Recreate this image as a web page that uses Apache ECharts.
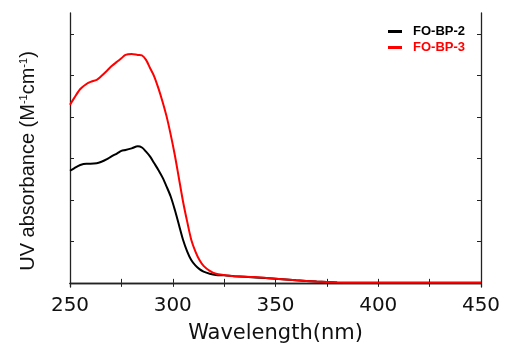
<!DOCTYPE html>
<html>
<head>
<meta charset="utf-8">
<script src="https://cdn.jsdelivr.net/npm/echarts@6/dist/echarts.min.js"></script>
<style>html,body{margin:0;padding:0;background:#fff;}#chart{width:511px;height:360px;}</style>
</head>
<body>
<div id="chart"></div>
<script>
var wavelengths = [250,252,255,258,260,263,265,268,270,273,275,277,280,283,285,287,289,291,293,295,297,299,301,303,305,307,309,311,313,315,318,321,325,330,340,350,360,370,380,390,400,410,420,430,440,450];
var fobp2 = [2.70,2.76,2.84,2.87,2.87,2.88,2.91,2.98,3.04,3.12,3.18,3.20,3.24,3.29,3.26,3.16,3.04,2.88,2.72,2.54,2.32,2.08,1.76,1.40,1.04,0.76,0.55,0.42,0.33,0.27,0.22,0.19,0.18,0.16,0.13,0.10,0.06,0.03,0.01,0,0,0,0,0,0,0];
var fobp3 = [4.29,4.45,4.67,4.79,4.84,4.89,4.97,5.11,5.21,5.33,5.41,5.49,5.51,5.49,5.48,5.37,5.17,4.97,4.69,4.37,4.01,3.57,3.08,2.52,1.96,1.48,1.04,0.76,0.55,0.41,0.29,0.22,0.19,0.16,0.14,0.10,0.06,0.03,0.01,0,0,0,0,0,0,0];
var seriesNames = ['FO-BP-2','FO-BP-3'];
var seriesColors = ['#000000','#ff0000'];
var xTicks = [250,300,350,400,450];
var yTicks = [0,1,2,3,4,5,6];

function pairs(xs, ys){ return xs.map(function(x,i){ return [x, ys[i]]; }); }

var chart = echarts.init(document.getElementById('chart'), null, {renderer:'canvas'});
var axisLine = {show:true, lineStyle:{color:'#222', width:1.3}};
var tick = {show:true, inside:true, length:4, lineStyle:{color:'#222'}};
var minorTick = {show:true, splitNumber:2, length:4, lineStyle:{color:'#222'}};
var hFont = 'DejaVu Sans';
chart.setOption({
  animation:false,
  backgroundColor:'#fff',
  grid:{left:70, right:30, top:13, bottom:73, containLabel:false},
  legend:{
    orient:'vertical', right:41, top:20, itemGap:3,
    icon:'rect', itemWidth:14, itemHeight:3,
    textStyle:{fontFamily:'Arial, Liberation Sans', fontSize:13, fontWeight:'bold', padding:[0,0,0,6]},
    data:[
      {name:seriesNames[0], textStyle:{color:seriesColors[0]}},
      {name:seriesNames[1], textStyle:{color:seriesColors[1]}}
    ]
  },
  xAxis:[
    {type:'value', min:250, max:450, interval:50, position:'bottom',
     axisLine:axisLine, axisTick:tick, minorTick:Object.assign({}, minorTick),
     splitLine:{show:false},
     axisLabel:{fontFamily:hFont, fontSize:20, color:'#111', margin:9},
     name:'Wavelength(nm)', nameLocation:'middle', nameGap:36,
     nameTextStyle:{fontFamily:hFont, fontSize:21, color:'#111'}},
    {type:'value', min:250, max:450, interval:50, position:'top',
     axisLine:axisLine, axisTick:tick, minorTick:Object.assign({}, minorTick),
     splitLine:{show:false}, axisLabel:{show:false}}
  ],
  yAxis:[
    {type:'value', min:-0.1, max:6.5, position:'left',
     axisLine:axisLine, axisTick:Object.assign({customValues:yTicks}, tick),
     splitLine:{show:false}, axisLabel:{show:false},
     name:'UV absorbance (M{s|-1}cm{s|-1})', nameLocation:'middle', nameGap:31, nameRotate:90,
     nameTextStyle:{fontFamily:'Arial, Liberation Sans', fontSize:20, color:'#111', padding:[0,22,0,0],
       rich:{s:{fontFamily:'Arial, Liberation Sans', fontSize:11, color:'#111', verticalAlign:'top', padding:[0,0,10,0]}}}},
    {type:'value', min:-0.1, max:6.5, position:'right',
     axisLine:axisLine, axisTick:Object.assign({customValues:yTicks}, tick),
     splitLine:{show:false}, axisLabel:{show:false}}
  ],
  series:[
    {name:seriesNames[0], type:'line', data:pairs(wavelengths, fobp2), showSymbol:false, smooth:0.3,
     lineStyle:{color:seriesColors[0], width:2}, itemStyle:{color:seriesColors[0]}, z:3},
    {name:seriesNames[1], type:'line', data:pairs(wavelengths, fobp3), showSymbol:false, smooth:0.3,
     lineStyle:{color:seriesColors[1], width:2}, itemStyle:{color:seriesColors[1]}, z:4}
  ]
});
</script>
</body>
</html>
